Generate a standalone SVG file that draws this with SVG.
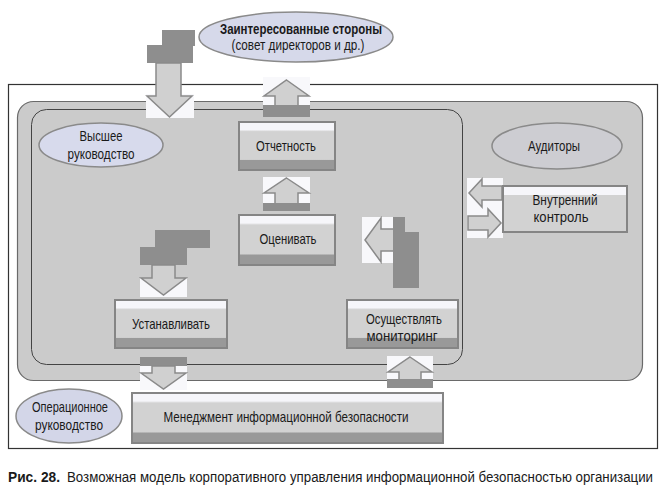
<svg xmlns="http://www.w3.org/2000/svg" width="668" height="497" viewBox="0 0 668 497">
<defs>
<linearGradient id="boxg" x1="0" y1="0" x2="0" y2="1">
<stop offset="0" stop-color="#f6f6fa"/>
<stop offset="0.16" stop-color="#f6f6fa"/>
<stop offset="0.2" stop-color="#d2d2d2"/>
<stop offset="0.78" stop-color="#d2d2d2"/>
<stop offset="0.8" stop-color="#999999"/>
<stop offset="1" stop-color="#999999"/>
</linearGradient>
<style>
.t{font-family:"Liberation Sans",Arial,sans-serif;font-size:15px;fill:#1a1a1a;text-anchor:middle}
.s{font-size:14px}
.b{font-weight:bold}
.box{fill:url(#boxg);stroke:#858585;stroke-width:2}
.dk{fill:#8e8e8e}
.ar{fill:#d0d0d0;stroke:#8a8a8a;stroke-width:1.5;stroke-linejoin:miter}
.wb{fill:#f8f8fb}
.ell{stroke:#8a8a8a;stroke-width:1.5}
.cap{font-family:"Liberation Sans",Arial,sans-serif;font-size:15px;fill:#1a1a1a}
</style>
</defs>
<rect width="668" height="497" fill="#fff"/>
<g id="frame">
<rect x="8.5" y="84.5" width="649" height="364" fill="#fff" stroke="#333" stroke-width="1.2"/>
<rect x="17.5" y="101.5" width="625" height="279" rx="16" fill="#cbcbcb" stroke="#6a6a6a" stroke-width="1.2"/>
<rect x="31.5" y="109.5" width="431" height="255" rx="15" fill="none" stroke="#444" stroke-width="1"/>
</g>
<g id="connectors">
<g>
<rect class="dk" x="162" y="30" width="33" height="16"/>
<rect class="dk" x="147" y="45" width="46" height="18"/>
<rect class="wb" x="146" y="94" width="48" height="24"/>
<polygon class="ar" points="156,63 181,63 181,96 192,96 169.5,117 147,96 156,96"/>
</g>
<g>
<rect class="wb" x="263" y="77" width="47" height="29"/>
<polygon class="ar" points="286.5,80 309,96 298,96 298,106 275,106 275,96 264,96"/>
<rect class="dk" x="263" y="105" width="47" height="12"/>
</g>
<g>
<rect class="wb" x="263" y="177" width="47" height="27"/>
<polygon class="ar" points="286.5,178 309,193 298,193 298,204 275,204 275,193 264,193"/>
<rect class="dk" x="263" y="203" width="47" height="8"/>
</g>
<g>
<rect class="wb" x="362" y="217" width="32" height="46"/>
<polygon class="ar" points="365,240 381,218 381,229 394,229 394,251 381,251 381,262"/>
<rect class="dk" x="393" y="217" width="12" height="16"/>
<rect class="dk" x="393" y="232" width="26" height="56"/>
</g>
<g>
<rect class="wb" x="467" y="178" width="36" height="60"/>
<polygon class="ar" points="469,193 482,179 482,186 502,186 502,200 482,200 482,207"/>
<polygon class="ar" points="501,223 488,209 488,216 468,216 468,230 488,230 488,237"/>
</g>
<g>
<rect class="dk" x="155" y="230" width="55" height="18"/>
<rect class="dk" x="140" y="247" width="47" height="18"/>
<rect class="wb" x="140" y="278" width="47" height="19"/>
<polygon class="ar" points="152,265 175,265 175,278 186,278 163.5,295 141,278 152,278"/>
</g>
<g>
<rect class="wb" x="140" y="365" width="47" height="25"/>
<rect class="dk" x="140" y="357" width="47" height="9"/>
<polygon class="ar" points="152,366 175,366 175,373 186,373 163.5,389 141,373 152,373"/>
</g>
<g>
<rect class="wb" x="387" y="356" width="46" height="24"/>
<polygon class="ar" points="410,357 432,372 421,372 421,380 399,380 399,372 388,372"/>
<rect class="dk" x="387" y="379" width="46" height="9"/>
</g>
</g>
<g id="stakeholders">
<ellipse class="ell" cx="296" cy="37" rx="97" ry="25" fill="#d6d9ea"/>
<text class="t s b" x="301" y="34" textLength="162" lengthAdjust="spacingAndGlyphs">Заинтересованные стороны</text>
<text class="t s" x="298" y="50" textLength="133" lengthAdjust="spacingAndGlyphs">(совет директоров и др.)</text>
</g>
<g id="top-management">
<ellipse class="ell" cx="101" cy="145" rx="62" ry="22" fill="#d7daec"/>
<text class="t" x="101" y="141" textLength="43" lengthAdjust="spacingAndGlyphs">Высшее</text>
<text class="t" x="101" y="159" textLength="67" lengthAdjust="spacingAndGlyphs">руководство</text>
</g>
<g id="auditors">
<ellipse class="ell" cx="557" cy="146" rx="65" ry="23" fill="#cdcdd2"/>
<text class="t" x="554" y="151" textLength="52" lengthAdjust="spacingAndGlyphs">Аудиторы</text>
</g>
<g id="reporting">
<rect class="box" x="239" y="122" width="96" height="48"/>
<text class="t" x="286" y="151" textLength="60" lengthAdjust="spacingAndGlyphs">Отчетность</text>
</g>
<g id="evaluate">
<rect class="box" x="239" y="215" width="96" height="50"/>
<text class="t" x="288" y="244" textLength="57" lengthAdjust="spacingAndGlyphs">Оценивать</text>
</g>
<g id="internal-control">
<rect x="503" y="186" width="124" height="46" fill="#d2d2d2" stroke="#858585" stroke-width="2"/>
<rect x="504" y="187" width="122" height="8" fill="#f6f6fa"/>
<text class="t" x="565" y="205" textLength="65" lengthAdjust="spacingAndGlyphs">Внутренний</text>
<text class="t" x="561" y="222" textLength="55" lengthAdjust="spacingAndGlyphs">контроль</text>
</g>
<g id="establish">
<rect class="box" x="115" y="300" width="112" height="48"/>
<text class="t" x="171" y="329" textLength="78" lengthAdjust="spacingAndGlyphs">Устанавливать</text>
</g>
<g id="monitoring">
<rect class="box" x="347" y="300" width="111" height="48"/>
<text class="t" x="404" y="324" textLength="76" lengthAdjust="spacingAndGlyphs">Осуществлять</text>
<text class="t" x="402" y="341" textLength="71" lengthAdjust="spacingAndGlyphs">мониторинг</text>
</g>
<g id="operational">
<ellipse class="ell" cx="69" cy="416" rx="53" ry="27" fill="#d3d6e8"/>
<text class="t" x="70" y="412" textLength="76" lengthAdjust="spacingAndGlyphs">Операционное</text>
<text class="t" x="69" y="430" textLength="68" lengthAdjust="spacingAndGlyphs">руководство</text>
</g>
<g id="isms">
<rect class="box" x="132" y="393" width="311" height="50"/>
<text class="t" x="286" y="422" textLength="245" lengthAdjust="spacingAndGlyphs">Менеджмент информационной безопасности</text>
</g>
<g id="caption">
<text class="cap" x="8" y="482" font-weight="bold" textLength="52" lengthAdjust="spacingAndGlyphs">Рис. 28.</text>
<text class="cap" transform="scale(0.85,1)" x="78.8" y="482" textLength="689.4" lengthAdjust="spacingAndGlyphs">Возможная модель корпоративного управления информационной безопасностью организации</text>
</g>
</svg>
